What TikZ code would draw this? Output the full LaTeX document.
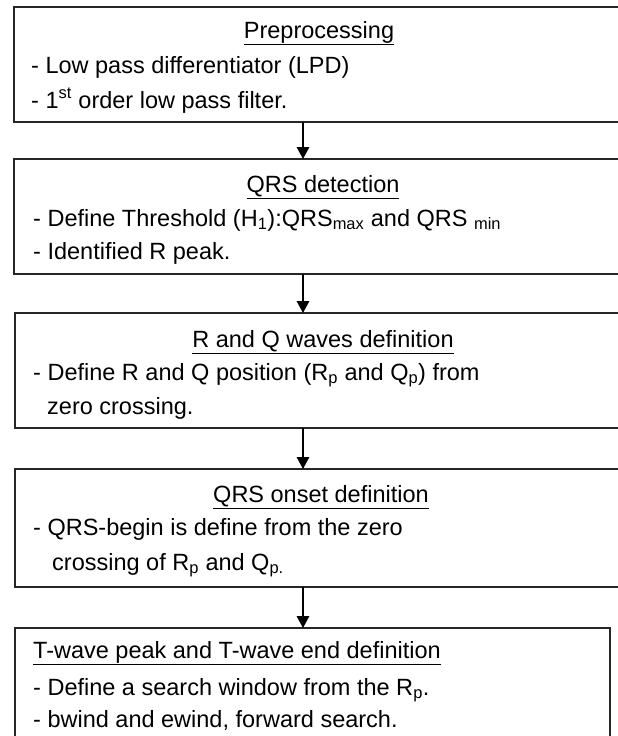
\documentclass[tikz,border=0pt]{standalone}
\usepackage{fontspec}
\setmainfont{Liberation Sans}
\usetikzlibrary{arrows.meta}
\begin{document}
\begin{tikzpicture}[x=1pt,y=-1pt,
  stage/.style={draw=black!85,line width=1.6pt,rectangle,inner sep=0pt,outer sep=0pt,anchor=north west},
  txt/.style={inner sep=0pt,anchor=base west,font=\fontsize{23.5}{28}\selectfont},
  ttl/.style={inner sep=0pt,anchor=base,font=\fontsize{23.5}{28}\selectfont},
  flow/.style={line width=1.6pt,-{Triangle[width=12.5pt,length=12pt]}}]
\useasboundingbox (0,0) rectangle (618,736);
\clip (0,0) rectangle (618,736);
% stage boxes
\node[stage,minimum width=640pt,minimum height=115pt] (b1) at (14,7) {};
\node[stage,minimum width=640pt,minimum height=115pt] (b2) at (14,159) {};
\node[stage,minimum width=640pt,minimum height=115pt] (b3) at (15,313) {};
\node[stage,minimum width=640pt,minimum height=118pt] (b4) at (15,469) {};
\node[stage,minimum width=595pt,minimum height=140pt] (b5) at (15,628) {};
\coordinate (ax) at (303,0);
% texts
\node[ttl] (t1) at (319,38) {\underline{Preprocessing}};
\node[txt] (t1a) at (31,73) {- Low pass differentiator (LPD)};
\node[txt] (t1b) at (31,108) {- 1\textsuperscript{st} order low pass filter.};
\node[ttl] (t2) at (323,192) {\underline{QRS detection}};
\node[txt] (t2a) at (33,226) {- Define Threshold (H\textsubscript{1}):QRS\textsubscript{max} and QRS \textsubscript{min}};
\node[txt] (t2b) at (33,259) {- Identified R peak.};
\node[ttl] (t3) at (323,347) {\underline{R and Q waves definition}};
\node[txt] (t3a) at (33,380) {- Define R and Q position (R\textsubscript{p} and Q\textsubscript{p}) from};
\node[txt] (t3b) at (47,414) {zero crossing.};
\node[ttl] (t4) at (321,502) {\underline{QRS onset definition}};
\node[txt] (t4a) at (33,535) {- QRS-begin is define from the zero};
\node[txt] (t4b) at (52,570) {crossing of R\textsubscript{p} and Q\textsubscript{p.}};
\node[txt] (t5) at (33,658) {\underline{T-wave peak and T-wave end definition}};
\node[txt] (t5a) at (33,695) {- Define a search window from the R\textsubscript{p}.};
\node[txt] (t5b) at (33,727) {- bwind and ewind, forward search.};
% connectors
\draw[flow] (b1.south -| ax) -- (b2.north -| ax);
\draw[flow] (b2.south -| ax) -- (b3.north -| ax);
\draw[flow] (b3.south -| ax) -- (b4.north -| ax);
\draw[flow] (b4.south -| ax) -- (b5.north -| ax);
\end{tikzpicture}
\end{document}
